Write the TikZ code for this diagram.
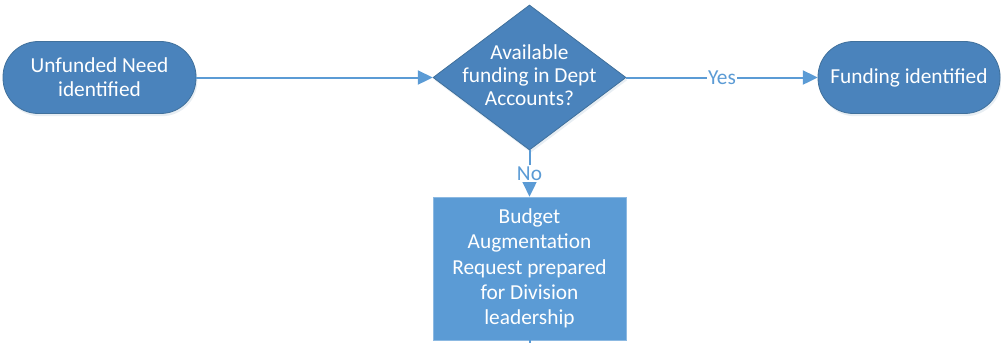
\documentclass[tikz,border=0pt]{standalone}
\usepackage{fontspec}
\setmainfont{Carlito}
\usetikzlibrary{shapes.geometric,arrows.meta,shadows}

\definecolor{darkblue}{HTML}{4A83BC}
\definecolor{edgeblue}{HTML}{41719C}
\definecolor{lightblue}{HTML}{5B9BD5}

\tikzset{
  shade/.style={drop shadow={opacity=0.12,shadow xshift=1pt,shadow yshift=-2pt,fill=edgeblue}},
  terminal/.style={draw=edgeblue,fill=darkblue,rounded corners=26.5pt,line width=0.6pt,
    text=white,align=center,inner sep=0pt,shade},
  decision/.style={diamond,draw=edgeblue,fill=darkblue,line width=0.6pt,inner sep=0pt,shade},
  process/.style={draw=lightblue!70!white,fill=lightblue,line width=0.6pt,text=white,
    align=center,inner sep=0pt},
  flowline/.style={draw=lightblue,line width=1.5pt,-{Triangle[length=11pt,width=10.5pt]}},
  flowlabel/.style={fill=white,text=lightblue,inner sep=1pt}
}

\begin{document}
\begin{tikzpicture}[x=0.75pt,y=-0.75pt,font=\fontsize{16}{18}\selectfont]
  \useasboundingbox (0,0) rectangle (1001,343);
  \node[terminal,minimum width=144.75pt,minimum height=54pt] (need) at (99.5,77.5)
    {Unfunded Need\\identified};
  \node[decision,minimum width=144.75pt,minimum height=108.75pt,
    label={[text=white,align=center,font=\fontsize{16}{17.3}\selectfont,yshift=1.5pt]center:Available\\funding in Dept\\Accounts?}]
    (check) at (529.5,77.5) {};
  \node[terminal,minimum width=136.5pt,minimum height=54pt] (found) at (909,77.5)
    {Funding identified};
  \node[process,minimum width=144.75pt,minimum height=107.25pt,
    font=\fontsize{16}{19}\selectfont] (bar) at (529.5,268.5)
    {Budget\\Augmentation\\Request prepared\\for Division\\leadership};
  \coordinate (tail) at (529.5,350);

  \path
    (need) edge[flowline] (check)
    (check) edge[flowline] node[flowlabel] {Yes} (found)
    (check) edge[flowline] node[flowlabel] {No} (bar);
  \draw[lightblue,line width=1.5pt] (bar.south) -- (tail);
\end{tikzpicture}
\end{document}
